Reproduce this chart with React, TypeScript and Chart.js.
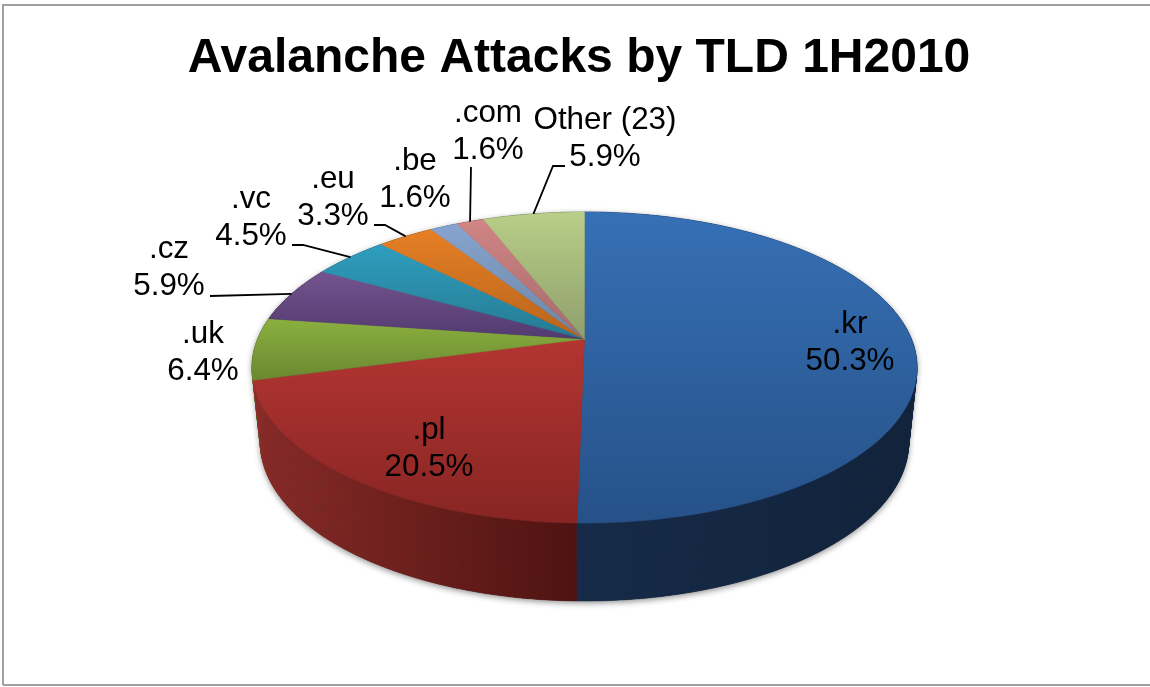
import React, { useEffect, useRef } from "react";
import { Chart, registerables } from "chart.js";

Chart.register(...registerables);

const categories = [".kr", ".pl", ".uk", ".cz", ".vc", ".eu", ".be", ".com", "Other (23)"];
const shares = [50.3, 20.5, 6.4, 5.9, 4.5, 3.3, 1.6, 1.6, 5.9];
const titleText = "Avalanche Attacks by TLD 1H2010";

const topLight = ["#3670B5", "#B33532", "#8BB03F", "#74548F", "#2F9EBE", "#E67F25", "#86A4CF", "#D18585", "#B9CE88"];
const topDark = ["#265188", "#872523", "#6A8831", "#523A6F", "#257A92", "#B8641C", "#6E86A4", "#A66A6A", "#8F9F6C"];
const wallLight = ["#162B49", "#8B2B28", "#5E7530", "#3E2C55", "#1C5C70", "#8A4B15", "#55677F", "#7A4A4A", "#66724D"];
const wallDark = ["#11233C", "#4E1311", "#465822", "#2E2040", "#154554", "#683810", "#404E60", "#5C3838", "#4C563A"];

const labelBoxes: Record<string, { x: number; y1: number; y2: number; elbow?: number[][] }> = {
  ".kr": { x: 850, y1: 333, y2: 370 },
  ".pl": { x: 429, y1: 439, y2: 476 },
  ".uk": { x: 203, y1: 343, y2: 380 },
  ".cz": { x: 169, y1: 258, y2: 295, elbow: [[210, 296]] },
  ".vc": { x: 251, y1: 208, y2: 245, elbow: [[292, 245], [303, 245]] },
  ".eu": { x: 333, y1: 188, y2: 225, elbow: [[374, 225], [385, 225]] },
  ".be": { x: 415, y1: 170, y2: 207 },
  ".com": { x: 488, y1: 122, y2: 159, elbow: [[471, 167]] },
  "Other (23)": { x: 605, y1: 129, y2: 166, elbow: [[565, 166], [553, 166]] },
};

const CX = 584.5;
const CY = 339;
const RX = 326.9;
const RY = 150.3;
const TILT = 0.1833;
const WALL_SCALE = 0.975;

function project(theta: number) {
  const u = Math.sin(theta);
  const v = -Math.cos(theta);
  const w = 1 - TILT * v;
  return { x: CX + (RX * u) / w, y: CY + (RY * v) / w, v };
}

function projectLower(theta: number) {
  const p = project(theta);
  return { x: CX + (p.x - CX) * WALL_SCALE, y: p.y + 70 + (8 * (p.v + 1)) / 2 };
}

function samples(a: number, b: number) {
  const n = Math.max(2, Math.ceil((b - a) / 0.01));
  const out: number[] = [];
  for (let i = 0; i <= n; i++) out.push(a + ((b - a) * i) / n);
  return out;
}

const pie3d = {
  id: "pie3d",
  beforeDatasetDraw(chart: any, args: any) {
    const ctx: CanvasRenderingContext2D = chart.ctx;
    const arcs = args.meta.data.map((el: any) => ({
      a: el.startAngle + Math.PI / 2,
      b: el.endAngle + Math.PI / 2,
    }));

    // soft shadow under the outline of the whole body
    const widest = Math.acos(-TILT);
    const outline = [
      ...samples(widest, Math.PI * 2 - widest).map(projectLower),
      ...samples(Math.PI * 2 - widest, Math.PI * 2 + widest).map(project),
    ];
    ctx.save();
    ctx.shadowColor = "rgba(0,0,0,0.45)";
    ctx.shadowBlur = 6;
    ctx.shadowOffsetY = 2;
    ctx.fillStyle = "#222222";
    ctx.beginPath();
    outline.forEach((p, i) => (i === 0 ? ctx.moveTo(p.x, p.y) : ctx.lineTo(p.x, p.y)));
    ctx.closePath();
    ctx.fill();
    ctx.restore();

    for (let i = arcs.length - 1; i >= 0; i--) {
      const ts = samples(arcs[i].a, arcs[i].b);
      const up = ts.map(project);
      const lo = ts.map(projectLower);
      const xs = up.map((p) => p.x);
      const g = ctx.createLinearGradient(Math.min(...xs), 0, Math.max(...xs), 0);
      g.addColorStop(0, wallLight[i]);
      g.addColorStop(1, wallDark[i]);
      ctx.fillStyle = g;
      ctx.strokeStyle = g;
      ctx.lineWidth = 0.5;
      for (let k = 0; k < ts.length - 1; k++) {
        ctx.beginPath();
        ctx.moveTo(up[k].x, up[k].y);
        ctx.lineTo(up[k + 1].x, up[k + 1].y);
        ctx.lineTo(lo[k + 1].x, lo[k + 1].y);
        ctx.lineTo(lo[k].x, lo[k].y);
        ctx.closePath();
        ctx.fill();
        ctx.stroke();
      }
    }

    arcs.forEach((arc: any, i: number) => {
      const pts = samples(arc.a, arc.b).map(project);
      const ys = pts.map((p) => p.y).concat(CY);
      const g = ctx.createLinearGradient(0, Math.min(...ys), 0, Math.max(...ys));
      g.addColorStop(0, topLight[i]);
      g.addColorStop(1, topDark[i]);
      ctx.beginPath();
      ctx.moveTo(CX, CY);
      pts.forEach((p) => ctx.lineTo(p.x, p.y));
      ctx.closePath();
      ctx.fillStyle = g;
      ctx.strokeStyle = g;
      ctx.lineWidth = 0.5;
      ctx.fill();
      ctx.stroke();
    });
    return false;
  },
  afterDraw(chart: any) {
    const ctx: CanvasRenderingContext2D = chart.ctx;
    const els = chart.getDatasetMeta(0).data;
    ctx.save();
    ctx.strokeStyle = "#A0A0A0";
    ctx.lineWidth = 2;
    ctx.beginPath();
    ctx.moveTo(3, 685);
    ctx.lineTo(1152, 685);
    ctx.moveTo(3, 685);
    ctx.lineTo(3, 5);
    ctx.lineTo(1152, 5);
    ctx.stroke();

    ctx.strokeStyle = "#000000";
    ctx.lineWidth = 1.8;
    ctx.fillStyle = "#000000";
    ctx.font = "31.4px 'Liberation Sans'";
    ctx.textAlign = "center";
    ctx.textBaseline = "alphabetic";
    categories.forEach((name, i) => {
      const box = labelBoxes[name];
      ctx.fillText(name, box.x, box.y1);
      ctx.fillText(shares[i].toFixed(1) + "%", box.x, box.y2);
      if (box.elbow) {
        const mid = (els[i].startAngle + els[i].endAngle) / 2 + Math.PI / 2;
        const end = project(mid);
        ctx.beginPath();
        box.elbow.forEach((p, k) => (k === 0 ? ctx.moveTo(p[0], p[1]) : ctx.lineTo(p[0], p[1])));
        ctx.lineTo(end.x, end.y);
        ctx.stroke();
      }
    });
    ctx.restore();
  },
};

export default function App() {
  const ref = useRef<HTMLCanvasElement>(null);
  useEffect(() => {
    document.body.style.margin = "0";
    document.body.style.background = "#ffffff";
    const chart = new Chart(ref.current as HTMLCanvasElement, {
      type: "pie",
      data: {
        labels: categories,
        datasets: [{ data: shares, backgroundColor: topLight, borderWidth: 0 }],
      },
      options: {
        responsive: false,
        animation: false,
        layout: { padding: { left: 8, top: 30 } },
        plugins: {
          legend: { display: false },
          tooltip: { enabled: false },
          title: {
            display: true,
            text: titleText,
            color: "#000000",
            font: { family: "'Liberation Sans'", size: 48, weight: "bold" },
            padding: 0,
          },
        },
      },
      plugins: [pie3d],
    } as any);
    return () => chart.destroy();
  }, []);
  return <canvas ref={ref} width={1150} height={687} style={{ display: "block" }} />;
}
